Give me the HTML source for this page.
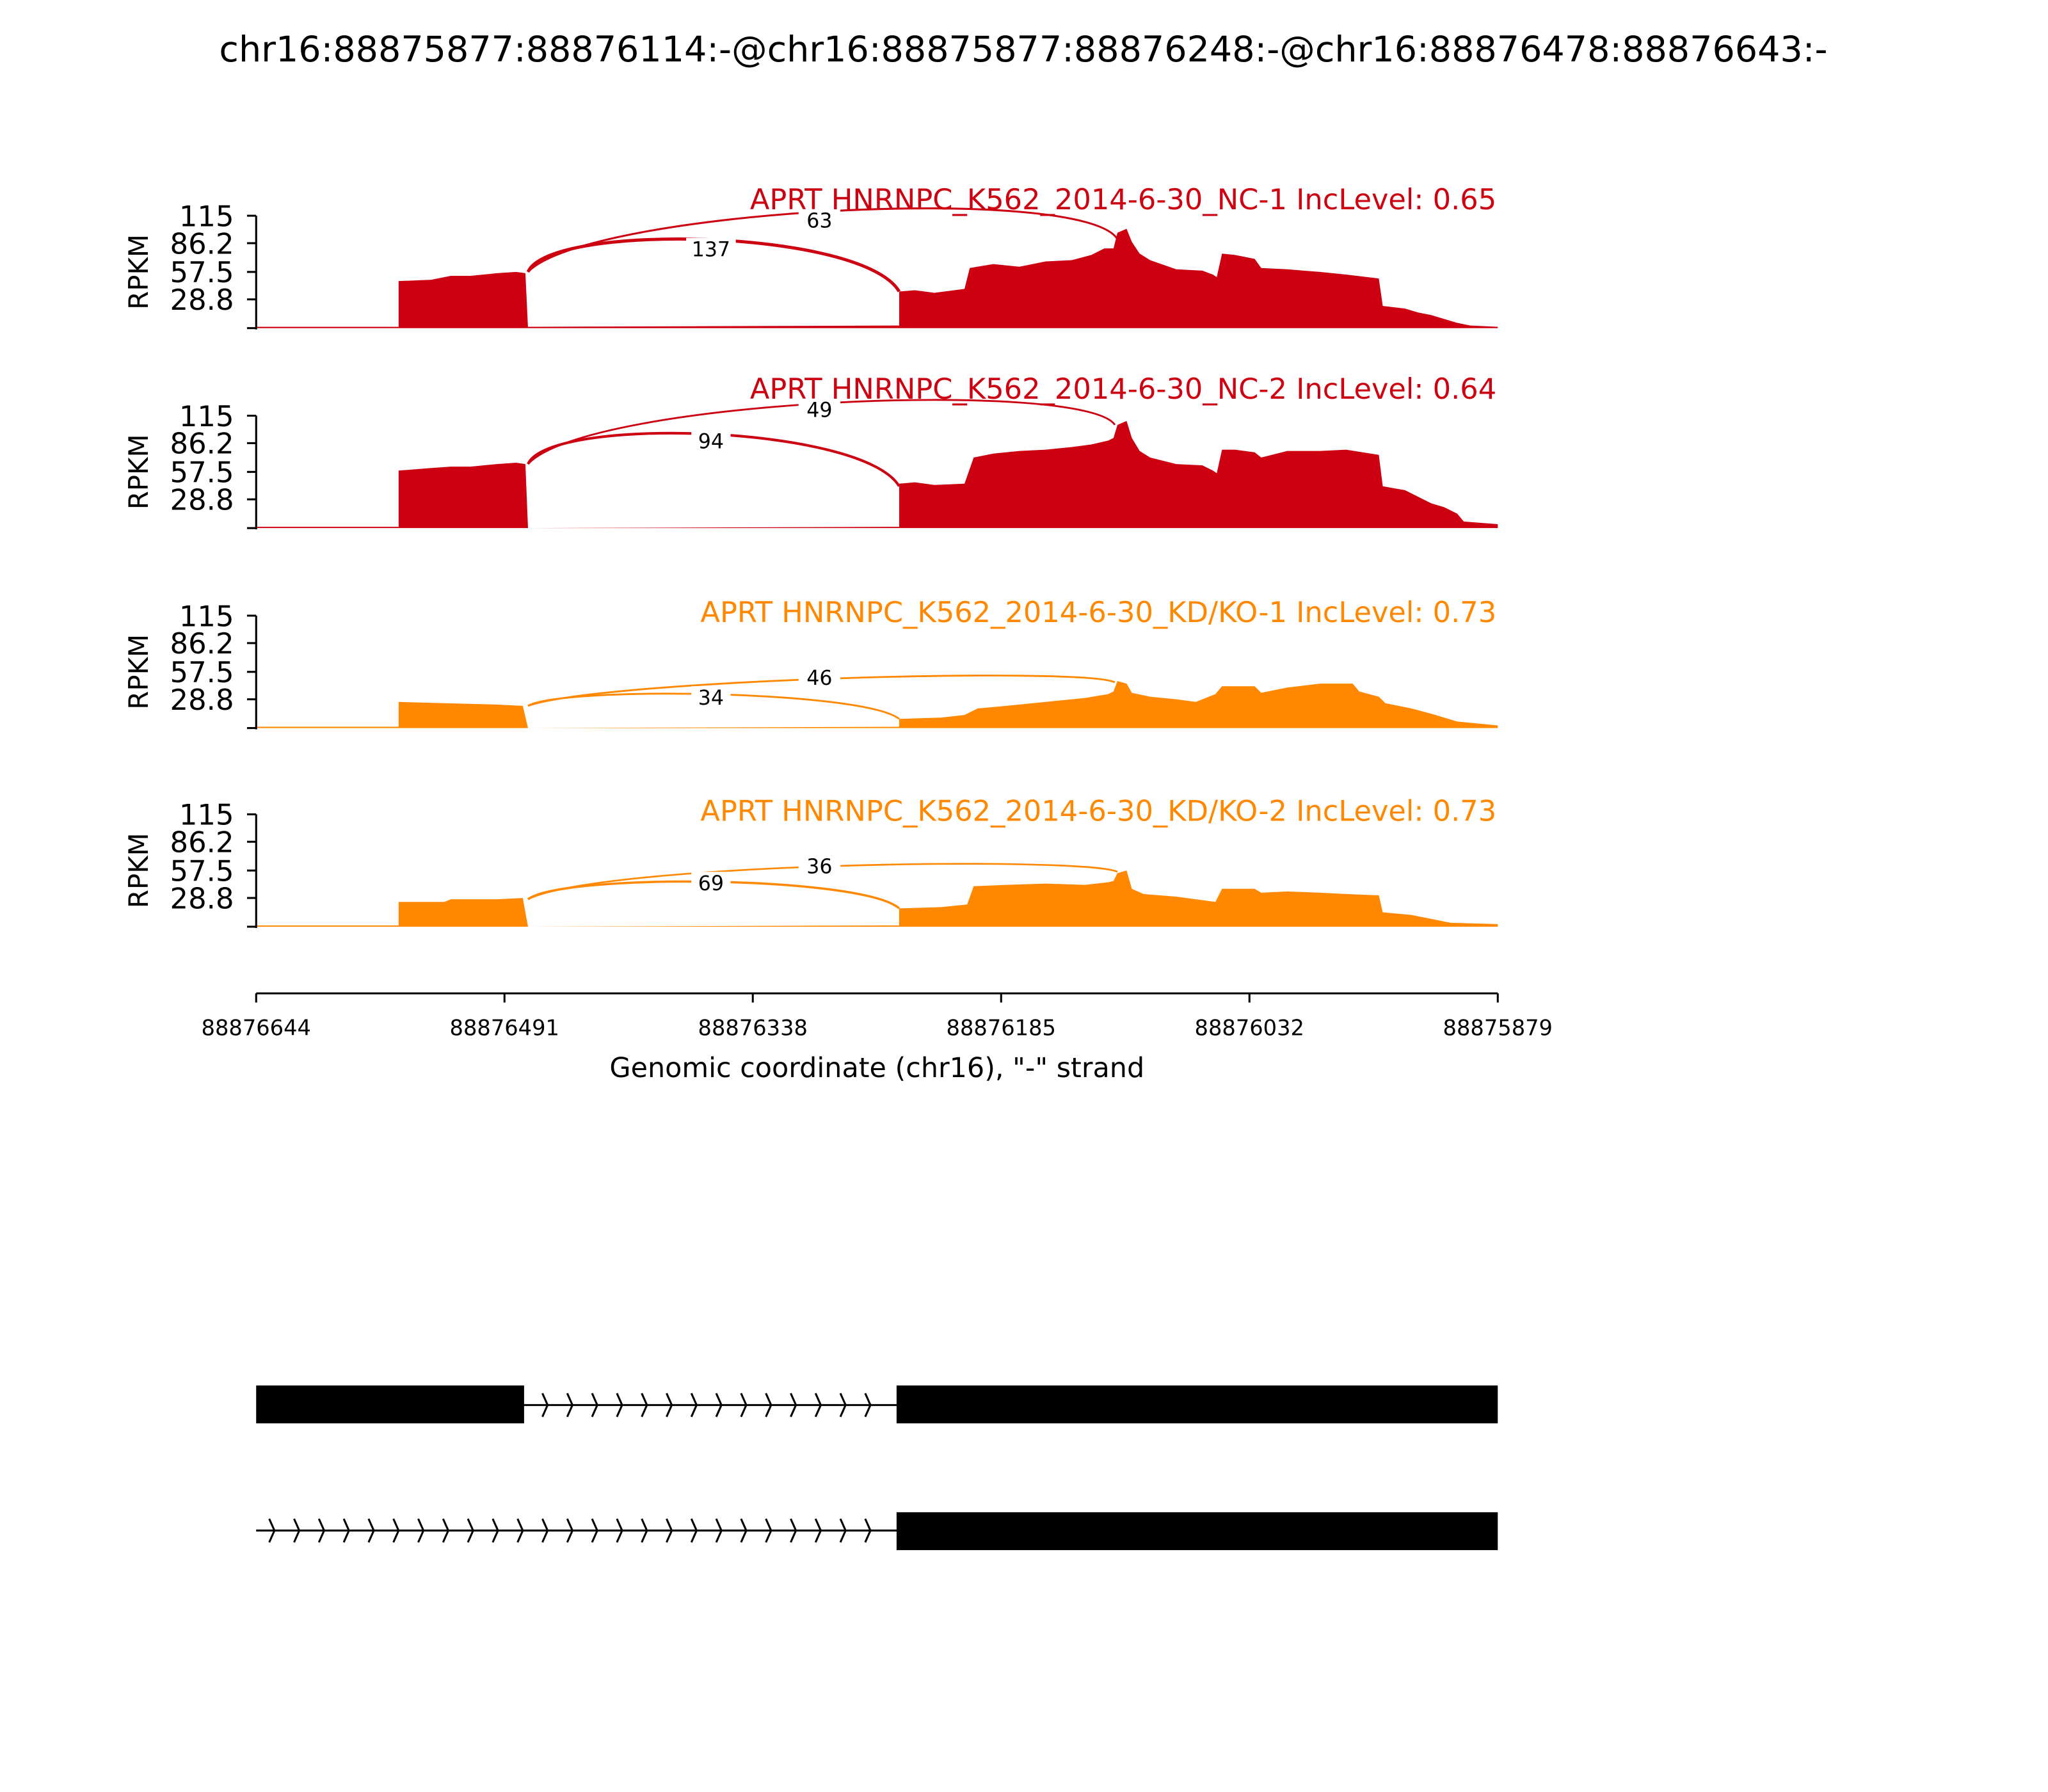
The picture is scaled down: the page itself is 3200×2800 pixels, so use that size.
<!DOCTYPE html>
<html><head><meta charset="utf-8"><style>html,body{margin:0;padding:0;background:#fff}svg{display:block}</style></head>
<body>
<svg id="s" width="3200" height="2800" viewBox="0 0 1567 1371" xmlns="http://www.w3.org/2000/svg" font-family="'DejaVu Sans','Liberation Sans',sans-serif">
<rect width="1567" height="1371" fill="#fff"/>
<text x="783" y="47" font-size="27.2" text-anchor="middle">chr16:88875877:88876114:-@chr16:88875877:88876248:-@chr16:88876478:88876643:-</text>

<!-- Panel 1 -->
<g>
<path fill="#cc0011" d="M196,251 L196,250 L305,250 L305,215 L330,214 L345,211 L360,211 L380,209 L395,208 L402,209 L404,251 L404,250 L688,249 L688,223 L700,222 L715,224 L738,221 L742,205 L760,202 L780,204 L800,200 L820,199 L835,195 L845,190 L852,190 L855,178 L862,175 L866,185 L872,194 L880,199 L900,206 L920,207 L928,210 L931,212 L935,194 L945,195 L960,198 L965,205 L985,206 L1010,208 L1030,210 L1055,213 L1058,234 L1075,236 L1085,239 L1095,241 L1105,244 L1115,247 L1125,249 L1146,250 L1146,251 Z"/>
<path d="M404,208 C420,170 660,175 688,223" fill="none" stroke="#cc0011" stroke-width="2.4"/>
<path d="M404,208 C450,160 830,140 855,183" fill="none" stroke="#cc0011" stroke-width="1.5"/>
<rect x="525" y="182" width="38" height="18" fill="#fff"/><text x="544" y="196" font-size="15.5" text-anchor="middle">137</text>
<rect x="611" y="160" width="32" height="18" fill="#fff"/><text x="627" y="174" font-size="15.5" text-anchor="middle">63</text>
<text x="1145" y="160" font-size="21.9" fill="#cc0011" text-anchor="end">APRT HNRNPC_K562_2014-6-30_NC-1 IncLevel: 0.65</text>
<g stroke="#000" stroke-width="1.5"><line x1="196" y1="165" x2="196" y2="252"/><line x1="189" y1="165" x2="196" y2="165"/><line x1="189" y1="186" x2="196" y2="186"/><line x1="189" y1="208" x2="196" y2="208"/><line x1="189" y1="229" x2="196" y2="229"/><line x1="189" y1="251" x2="196" y2="251"/></g>
<g font-size="22" text-anchor="end"><text x="179" y="173">115</text><text x="179" y="194">86.2</text><text x="179" y="216">57.5</text><text x="179" y="237">28.8</text></g>
<text transform="translate(113,208) rotate(-90)" font-size="20.5" text-anchor="middle">RPKM</text>
</g>

<!-- Panel 2 -->
<g>
<path fill="#cc0011" d="M196,404 L196,403 L305,403 L305,360 L330,358 L345,357 L360,357 L380,355 L395,354 L402,355 L404,404 L688,403 L688,370 L700,369 L715,371 L738,370 L745,350 L760,347 L780,345 L800,344 L820,342 L835,340 L848,337 L852,335 L855,325 L862,322 L866,335 L872,345 L880,350 L900,355 L920,356 L928,360 L931,362 L935,344 L945,344 L960,346 L965,350 L985,345 L1010,345 L1030,344 L1055,348 L1058,372 L1075,375 L1085,380 L1095,385 L1105,388 L1115,393 L1120,399 L1146,401 L1146,404 Z"/>
<path d="M404,355 C420,318 660,325 688,372" fill="none" stroke="#cc0011" stroke-width="2"/>
<path d="M404,355 C450,305 830,290 853,325" fill="none" stroke="#cc0011" stroke-width="1.4"/>
<rect x="529" y="329" width="30" height="18" fill="#fff"/><text x="544" y="343" font-size="15.5" text-anchor="middle">94</text>
<rect x="611" y="305" width="32" height="18" fill="#fff"/><text x="627" y="319" font-size="15.5" text-anchor="middle">49</text>
<text x="1145" y="305" font-size="21.9" fill="#cc0011" text-anchor="end">APRT HNRNPC_K562_2014-6-30_NC-2 IncLevel: 0.64</text>
<g stroke="#000" stroke-width="1.5"><line x1="196" y1="318" x2="196" y2="405"/><line x1="189" y1="318" x2="196" y2="318"/><line x1="189" y1="339" x2="196" y2="339"/><line x1="189" y1="361" x2="196" y2="361"/><line x1="189" y1="382" x2="196" y2="382"/><line x1="189" y1="404" x2="196" y2="404"/></g>
<g font-size="22" text-anchor="end"><text x="179" y="326">115</text><text x="179" y="347">86.2</text><text x="179" y="369">57.5</text><text x="179" y="390">28.8</text></g>
<text transform="translate(113,361) rotate(-90)" font-size="20.5" text-anchor="middle">RPKM</text>
</g>

<!-- Panel 3 -->
<g>
<path fill="#ff8800" d="M196,557 L196,556 L305,556 L305,537 L340,538 L380,539 L400,540 L404,557 L688,556 L688,550 L720,549 L738,547 L748,542 L770,540 L800,537 L830,534 L848,531 L852,529 L855,521 L862,523 L866,530 L880,533 L900,535 L915,537 L930,531 L935,525 L960,525 L965,530 L985,526 L1010,523 L1035,523 L1040,529 L1055,533 L1060,538 L1080,542 L1095,546 L1105,549 L1115,552 L1146,555 L1146,557 Z"/>
<path d="M404,540 C430,525 660,528 688,550" fill="none" stroke="#ff8800" stroke-width="1.4"/>
<path d="M404,540 C460,520 830,510 853,522" fill="none" stroke="#ff8800" stroke-width="1.4"/>
<rect x="529" y="525" width="30" height="18" fill="#fff"/><text x="544" y="539" font-size="15.5" text-anchor="middle">34</text>
<rect x="611" y="510" width="32" height="18" fill="#fff"/><text x="627" y="524" font-size="15.5" text-anchor="middle">46</text>
<text x="1145" y="476" font-size="21.9" fill="#ff8800" text-anchor="end">APRT HNRNPC_K562_2014-6-30_KD/KO-1 IncLevel: 0.73</text>
<g stroke="#000" stroke-width="1.5"><line x1="196" y1="471" x2="196" y2="558"/><line x1="189" y1="471" x2="196" y2="471"/><line x1="189" y1="492" x2="196" y2="492"/><line x1="189" y1="514" x2="196" y2="514"/><line x1="189" y1="535" x2="196" y2="535"/><line x1="189" y1="557" x2="196" y2="557"/></g>
<g font-size="22" text-anchor="end"><text x="179" y="479">115</text><text x="179" y="500">86.2</text><text x="179" y="522">57.5</text><text x="179" y="543">28.8</text></g>
<text transform="translate(113,514) rotate(-90)" font-size="20.5" text-anchor="middle">RPKM</text>
</g>

<!-- Panel 4 -->
<g>
<path fill="#ff8800" d="M196,709 L196,708 L305,708 L305,690 L340,690 L345,688 L380,688 L400,687 L404,709 L688,708 L688,695 L720,694 L740,692 L745,678 L770,677 L800,676 L830,677 L848,675 L852,674 L855,668 L862,666 L866,680 L875,684 L900,686 L915,688 L930,690 L935,680 L960,680 L965,683 L985,682 L1010,683 L1030,684 L1055,685 L1058,698 L1080,700 L1095,703 L1110,706 L1146,707 L1146,709 Z"/>
<path d="M404,688 C430,668 660,670 688,695" fill="none" stroke="#ff8800" stroke-width="1.7"/>
<path d="M404,688 C460,660 830,655 855,667" fill="none" stroke="#ff8800" stroke-width="1.3"/>
<rect x="529" y="667" width="30" height="18" fill="#fff"/><text x="544" y="681" font-size="15.5" text-anchor="middle">69</text>
<rect x="611" y="654" width="32" height="18" fill="#fff"/><text x="627" y="668" font-size="15.5" text-anchor="middle">36</text>
<text x="1145" y="628" font-size="21.9" fill="#ff8800" text-anchor="end">APRT HNRNPC_K562_2014-6-30_KD/KO-2 IncLevel: 0.73</text>
<g stroke="#000" stroke-width="1.5"><line x1="196" y1="623" x2="196" y2="710"/><line x1="189" y1="623" x2="196" y2="623"/><line x1="189" y1="644" x2="196" y2="644"/><line x1="189" y1="666" x2="196" y2="666"/><line x1="189" y1="687" x2="196" y2="687"/><line x1="189" y1="709" x2="196" y2="709"/></g>
<g font-size="22" text-anchor="end"><text x="179" y="631">115</text><text x="179" y="652">86.2</text><text x="179" y="674">57.5</text><text x="179" y="695">28.8</text></g>
<text transform="translate(113,666) rotate(-90)" font-size="20.5" text-anchor="middle">RPKM</text>
</g>

<!-- X axis -->
<g stroke="#000" stroke-width="1.5">
<line x1="196" y1="760" x2="1146" y2="760"/>
<line x1="196" y1="760" x2="196" y2="767"/><line x1="386" y1="760" x2="386" y2="767"/><line x1="576" y1="760" x2="576" y2="767"/><line x1="766" y1="760" x2="766" y2="767"/><line x1="956" y1="760" x2="956" y2="767"/><line x1="1146" y1="760" x2="1146" y2="767"/>
</g>
<g font-size="16.5" text-anchor="middle">
<text x="196" y="792">88876644</text><text x="386" y="792">88876491</text><text x="576" y="792">88876338</text><text x="766" y="792">88876185</text><text x="956" y="792">88876032</text><text x="1146" y="792">88875879</text>
</g>
<text x="671" y="824" font-size="21" text-anchor="middle">Genomic coordinate (chr16), "-" strand</text>

<!-- Gene tracks -->
<line x1="400" y1="1075" x2="688" y2="1075" stroke="#000" stroke-width="1.5"/>
<rect x="196" y="1060" width="205" height="29" fill="#000"/>
<rect x="686" y="1060" width="460" height="29" fill="#000"/>
<line x1="196" y1="1171" x2="688" y2="1171" stroke="#000" stroke-width="1.5"/>
<rect x="686" y="1157" width="460" height="29" fill="#000"/>
<g id="chev" fill="none" stroke="#000" stroke-width="1.5"></g>
</svg>
<script>
var g=document.getElementById('chev'),h='';
for(var x=400;x<=680;x+=19){h+='<path d="M'+(x-4)+',1066 L'+x+',1075 L'+(x-4)+',1084"/>';}
for(var x=210;x<=680;x+=19){h+='<path d="M'+(x-4)+',1162 L'+x+',1171 L'+(x-4)+',1180"/>';}
g.innerHTML=h;
</script>
</body></html>
